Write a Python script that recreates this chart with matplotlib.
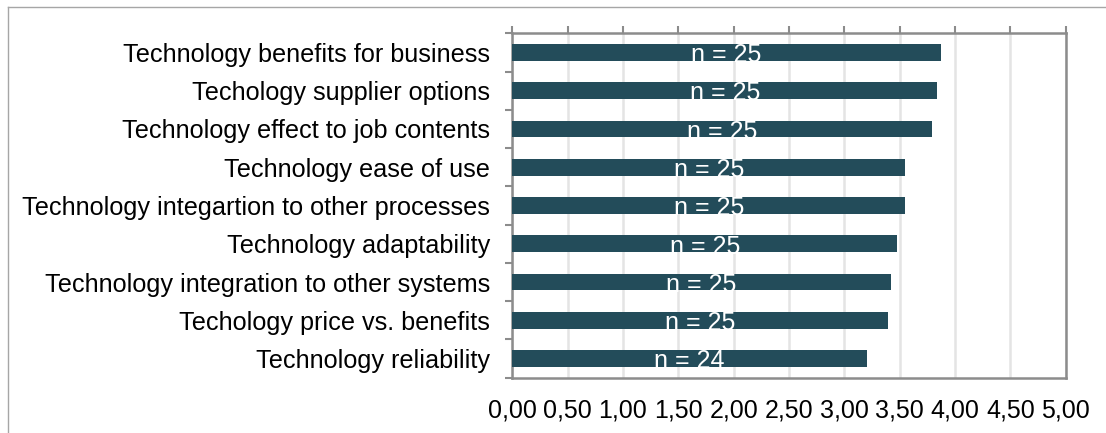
import matplotlib.pyplot as plt
from matplotlib.lines import Line2D
import numpy as np

plt.rcParams['font.family'] = ['Liberation Sans', 'DejaVu Sans']

categories = [
    "Technology benefits for business",
    "Techology supplier options",
    "Technology effect to job contents",
    "Technology ease of use",
    "Technology integartion to other processes",
    "Technology adaptability",
    "Technology integration to other systems",
    "Techology price vs. benefits",
    "Technology reliability",
]
scores = [3.87, 3.84, 3.79, 3.55, 3.55, 3.48, 3.42, 3.39, 3.20]
counts = [25, 25, 25, 25, 25, 25, 25, 25, 24]
xticks = np.arange(0, 5.01, 0.5)
xtick_labels = ["%.2f" % v for v in xticks]
xtick_labels = [s.replace(".", ",") for s in xtick_labels]

bar_col = "#234C5A"
spine_col = "#8C8C8C"

fig = plt.figure(figsize=(11.06, 4.33), dpi=100)
ax = fig.add_axes([0.4632, 0.1277, 0.5004, 0.7954])

ypos = np.arange(len(categories))
ax.barh(ypos, scores, height=0.44, color=bar_col, zorder=3)

for y, v, n in zip(ypos, scores, counts):
    ax.annotate("n = %d" % n, (v / 2, y), xytext=(0, -2), textcoords="offset points",
                ha="center", va="center", color="white", fontsize=18, zorder=4)

ax.set_xlim(0, 5)
ax.set_ylim(len(categories) - 0.5, -0.5)
ax.set_xticks(xticks)
ax.set_xticklabels(xtick_labels)
ax.set_yticks(ypos)
ax.set_yticklabels(categories)
ax.set_yticks(np.arange(-0.5, len(categories)), minor=True)

ax.tick_params(axis="x", top=True, bottom=False, labeltop=False, labelbottom=True,
               length=5, width=1.5, color=spine_col, labelsize=18, pad=10)
ax.tick_params(axis="y", which="major", length=0, labelsize=18.2, pad=16)
ax.tick_params(axis="y", which="minor", length=5, width=1.5, color=spine_col)

ax.grid(axis="x", color="#E4E4E4", linewidth=1.8, zorder=0)
ax.set_axisbelow(True)
for s in ax.spines.values():
    s.set_color(spine_col)
    s.set_linewidth(1.8)

# thin frame around the chart area
W, H = 1106, 433
fig.add_artist(Line2D([8 / W, 1], [1 - 7 / H, 1 - 7 / H], transform=fig.transFigure,
                      color="#A6A6A6", linewidth=1))
fig.add_artist(Line2D([8 / W, 8 / W], [0, 1 - 7 / H], transform=fig.transFigure,
                      color="#A6A6A6", linewidth=1))

fig.savefig("out.png", dpi=100)
